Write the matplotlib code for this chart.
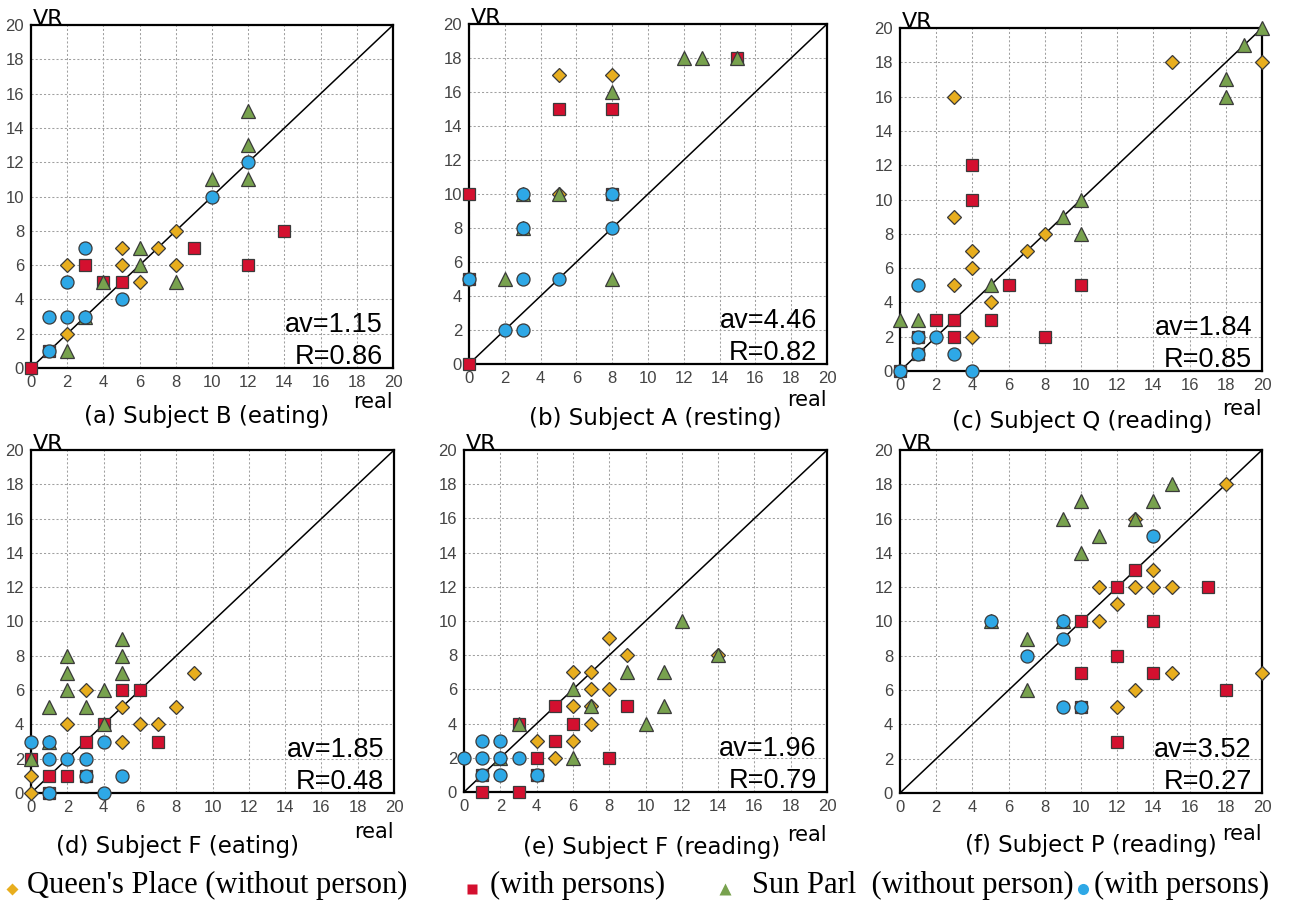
import matplotlib
matplotlib.use('Agg')
import matplotlib.pyplot as plt
from matplotlib.lines import Line2D

# (real, VR) pairs, one list per series and panel
a_qp_empty = [(2, 6), (2, 2), (5, 7), (5, 6), (6, 5), (7, 7), (8, 8), (8, 6)]
a_qp_people = [(0, 0), (1, 1), (3, 6), (4, 5), (5, 5), (9, 7), (12, 6), (14, 8)]
a_sp_empty = [(2, 1), (3, 3), (4, 5), (6, 7), (6, 6), (8, 5), (10, 11), (12, 15), (12, 13), (12, 11)]
a_sp_people = [(1, 1), (1, 3), (2, 5), (2, 3), (3, 7), (3, 3), (5, 4), (10, 10), (12, 12)]

b_qp_empty = [(5, 17), (8, 17), (5, 10)]
b_qp_people = [(0, 10), (0, 5), (0, 0), (5, 15), (8, 15), (8, 10), (15, 18)]
b_sp_empty = [(2, 5), (3, 8), (3, 10), (5, 10), (8, 5), (8, 16), (12, 18), (13, 18), (15, 18)]
b_sp_people = [(0, 5), (2, 2), (3, 2), (3, 5), (3, 8), (3, 10), (5, 5), (8, 8), (8, 10)]

c_qp_empty = [(3, 16), (3, 9), (3, 5), (4, 7), (4, 6), (4, 2), (5, 4), (7, 7), (8, 8), (15, 18), (20, 18)]
c_qp_people = [(0, 0), (1, 1), (1, 2), (2, 3), (3, 3), (3, 2), (4, 12), (4, 10), (5, 3), (6, 5), (8, 2), (10, 5)]
c_sp_empty = [(0, 3), (1, 3), (5, 5), (9, 9), (10, 10), (10, 8), (18, 17), (18, 16), (19, 19), (20, 20)]
c_sp_people = [(0, 0), (1, 1), (1, 2), (1, 5), (2, 2), (3, 1), (4, 0)]

d_qp_empty = [(0, 0), (0, 1), (2, 4), (3, 6), (5, 5), (5, 3), (6, 4), (7, 4), (8, 5), (9, 7)]
d_qp_people = [(0, 2), (1, 1), (1, 0), (2, 1), (3, 1), (3, 3), (4, 4), (5, 6), (6, 6), (7, 3)]
d_sp_empty = [(0, 2), (1, 3), (1, 5), (2, 6), (2, 7), (2, 8), (3, 5), (4, 4), (4, 6), (5, 7), (5, 8), (5, 9)]
d_sp_people = [(0, 3), (1, 3), (1, 2), (1, 0), (2, 2), (3, 2), (3, 1), (4, 3), (4, 0), (5, 1)]

e_qp_empty = [(4, 3), (5, 2), (6, 3), (6, 5), (6, 7), (7, 4), (7, 5), (7, 6), (7, 7), (8, 6), (8, 9), (9, 8), (14, 8)]
e_qp_people = [(1, 0), (1, 1), (3, 0), (3, 4), (4, 1), (4, 2), (5, 3), (5, 5), (6, 4), (8, 2), (9, 5)]
e_sp_empty = [(2, 2), (3, 4), (6, 2), (6, 6), (7, 5), (9, 7), (10, 4), (11, 7), (11, 5), (12, 10), (14, 8)]
e_sp_people = [(0, 2), (1, 1), (1, 2), (1, 3), (2, 1), (2, 2), (2, 3), (3, 2), (4, 1)]

f_qp_empty = [(11, 12), (11, 10), (12, 11), (12, 5), (13, 6), (13, 12), (13, 16), (14, 12), (14, 13),
              (15, 12), (15, 7), (18, 18), (20, 7)]
f_qp_people = [(10, 5), (10, 7), (10, 10), (12, 3), (12, 8), (12, 12), (13, 13), (14, 7), (14, 10), (17, 12), (18, 6)]
f_sp_empty = [(5, 10), (7, 6), (7, 9), (9, 10), (9, 16), (10, 14), (10, 17), (11, 15), (13, 16), (14, 17), (15, 18)]
f_sp_people = [(5, 10), (7, 8), (9, 5), (9, 9), (9, 10), (10, 5), (14, 15)]

captions = ['(a) Subject B (eating)', '(b) Subject A (resting)', '(c) Subject Q (reading)',
            '(d) Subject F (eating)', '(e) Subject F (reading)', '(f) Subject P (reading)']
av_values = ['1.15', '4.46', '1.84', '1.85', '1.96', '3.52']
r_values = ['0.86', '0.82', '0.85', '0.48', '0.79', '0.27']
legend_labels = ["Queen's Place (without person)", '(with persons)',
                 'Sun Parl  (without person)', '(with persons)']

panels = [
    (a_qp_empty, a_qp_people, a_sp_empty, a_sp_people),
    (b_qp_empty, b_qp_people, b_sp_empty, b_sp_people),
    (c_qp_empty, c_qp_people, c_sp_empty, c_sp_people),
    (d_qp_empty, d_qp_people, d_sp_empty, d_sp_people),
    (e_qp_empty, e_qp_people, e_sp_empty, e_sp_people),
    (f_qp_empty, f_qp_people, f_sp_empty, f_sp_people),
]

# layout
axes_pos = [
    [0.0238, 0.5956, 0.2774, 0.3769],
    [0.3594, 0.6000, 0.2743, 0.3736],
    [0.6897, 0.5923, 0.2774, 0.3769],
    [0.0238, 0.1286, 0.2782, 0.3769],
    [0.3556, 0.1297, 0.2782, 0.3758],
    [0.6897, 0.1286, 0.2774, 0.3769],
]
caption_xy = [(0.486, -0.140), (0.520, -0.159), (0.503, -0.146),
              (0.402, -0.157), (0.518, -0.161), (0.528, -0.152)]
real_y = [-0.099, -0.106, -0.111, -0.114, -0.126, -0.120]

# draw order: squares, diamonds, triangles, circles
styles = [
    dict(marker='D', color='#E8AE1E', ms=7.4, z=4),   # Queen's Place without
    dict(marker='s', color='#D4102F', ms=9.2, z=3),   # Queen's Place with
    dict(marker='^', color='#78A24E', ms=9.8, z=5),   # Sun Park without
    dict(marker='o', color='#2EA8E6', ms=9.4, z=6),   # Sun Park with
]
edge = '#3a3a3a'

fig = plt.figure(figsize=(13.05, 9.10), dpi=100)

for i, series in enumerate(panels):
    ax = fig.add_axes(axes_pos[i])
    ax.set_xlim(0, 20)
    ax.set_ylim(0, 20)
    ax.set_xticks(range(0, 21, 2))
    ax.set_yticks(range(0, 21, 2))
    ax.grid(True, linestyle=(0, (2, 2)), color='#a0a0a0', linewidth=0.75)
    ax.set_axisbelow(True)
    ax.tick_params(length=0, pad=5, labelsize=12, labelcolor='#444444')
    for lab in ax.get_xticklabels() + ax.get_yticklabels():
        lab.set_family('Liberation Sans')
    for sp in ax.spines.values():
        sp.set_linewidth(1.6)
        sp.set_zorder(2.5)
    ax.plot([0, 20], [0, 20], color='black', linewidth=1.1, zorder=2)

    for pts, st in zip(series, styles):
        xs = [p[0] for p in pts]
        ys = [p[1] for p in pts]
        ax.plot(xs, ys, linestyle='none', marker=st['marker'], markersize=st['ms'],
                markerfacecolor=st['color'], markeredgecolor=edge, markeredgewidth=0.9,
                zorder=st['z'], clip_on=False)

    ax.text(0.004, 1.0, 'VR', transform=ax.transAxes, fontsize=16,
            ha='left', va='baseline')
    ax.text(0.972, 0.105, 'av=' + av_values[i], transform=ax.transAxes, fontsize=19.5,
            family='Liberation Sans', ha='right', va='baseline', zorder=7)
    ax.text(0.972, 0.012, 'R=' + r_values[i], transform=ax.transAxes, fontsize=19.5,
            family='Liberation Sans', ha='right', va='baseline', zorder=7)
    ax.text(1.0, real_y[i], 'real', transform=ax.transAxes, fontsize=15,
            ha='right', va='center')
    ax.text(caption_xy[i][0], caption_xy[i][1], captions[i], transform=ax.transAxes,
            fontsize=16.5, ha='center', va='center')

# legend strip along the bottom
leg_marker_x = [12 / 1305, 472 / 1305, 725 / 1305, 1083 / 1305]
leg_text_x = [27 / 1305, 490 / 1305, 752 / 1305, 1094 / 1305]
leg_y = 1 - 885 / 910
for st, mx, tx, lab in zip(styles, leg_marker_x, leg_text_x, legend_labels):
    fig.add_artist(Line2D([mx], [leg_y - 0.004], transform=fig.transFigure, linestyle='none',
                          marker=st['marker'], markersize=st['ms'] * 0.85,
                          markerfacecolor=st['color'], markeredgecolor='none'))
    fig.text(tx, leg_y, lab, family='Liberation Serif', fontsize=22, ha='left', va='center')

fig.savefig('out.png', dpi=100)
